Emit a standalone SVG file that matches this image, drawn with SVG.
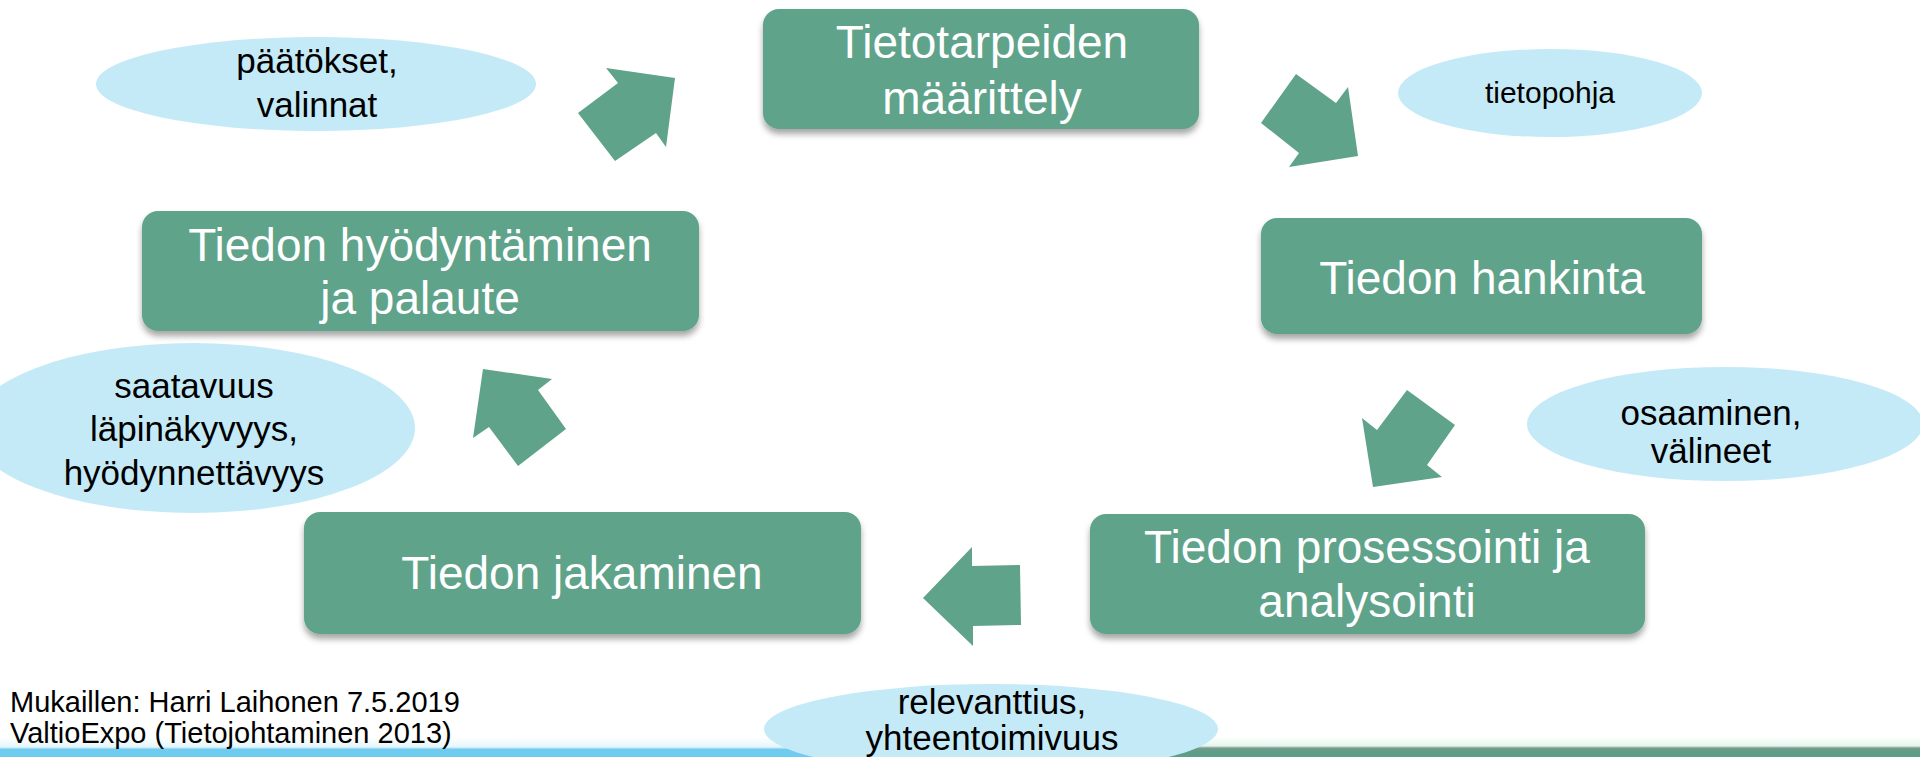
<svg xmlns="http://www.w3.org/2000/svg" width="1920" height="757" viewBox="0 0 1920 757">
<defs>
<style>
.box{fill:#5fa38b;filter:url(#sh)}
.bt{font-family:"Liberation Sans",Arial,sans-serif;font-size:46px;fill:#ffffff;text-anchor:middle}
.el{fill:#c5eaf7}
.et{font-family:"Liberation Sans",Arial,sans-serif;font-size:35px;fill:#000000;text-anchor:middle}
.ft{font-family:"Liberation Sans",Arial,sans-serif;font-size:29px;fill:#000000}
.arr{fill:#5fa38b}
</style>
<filter id="sh" x="-10%" y="-20%" width="120%" height="150%">
<feDropShadow dx="0" dy="5" stdDeviation="3" flood-color="#000" flood-opacity="0.35"/>
</filter>
<linearGradient id="gb" x1="0" y1="0" x2="0" y2="1">
<stop offset="0" stop-color="#ffffff"/>
<stop offset="0.5" stop-color="#e6f6fc"/>
<stop offset="0.62" stop-color="#6fcbef"/>
<stop offset="1" stop-color="#6fcbef"/>
</linearGradient>
<linearGradient id="gg" x1="0" y1="0" x2="0" y2="1">
<stop offset="0" stop-color="#ffffff"/>
<stop offset="0.45" stop-color="#e4f5ee"/>
<stop offset="0.55" stop-color="#7d9a8e"/>
<stop offset="0.7" stop-color="#5e9e88"/>
<stop offset="1" stop-color="#5e9e88"/>
</linearGradient>
</defs>
<rect width="1920" height="757" fill="#ffffff"/>

<g id="bottom-bar">
<rect x="0" y="737" width="1155" height="20" fill="url(#gb)"/>
<rect x="1153" y="737" width="767" height="20" fill="url(#gg)"/>
</g>

<g id="connectors">
<polygon class="arr" points="675,78 666,147 656,133 615,161 578,113 618,83 606,68"/>
<polygon class="arr" points="1358,156 1348,87 1336,103 1296,74 1261,123 1299,153 1289,167"/>
<polygon class="arr" points="1373,487 1362,418 1377,430 1407,390 1455,425 1427,465 1442,477"/>
<polygon class="arr" points="923,598 972,547 972,566 1020,565 1021,625 973,626 973,646"/>
<polygon class="arr" points="483,369 552,379 538,390 566,429 518,466 489,427 473,438"/>
</g>

<g id="node-maarittely">
<rect class="box" x="763" y="9" width="436" height="120" rx="16"/>
<text class="bt" x="982" y="58">Tietotarpeiden</text>
<text class="bt" x="982" y="114">määrittely</text>
</g>

<g id="node-hankinta">
<rect class="box" x="1261" y="218" width="441" height="116" rx="16"/>
<text class="bt" x="1482" y="294">Tiedon hankinta</text>
</g>

<g id="node-prosessointi">
<rect class="box" x="1090" y="514" width="555" height="120" rx="16"/>
<text class="bt" x="1367" y="563">Tiedon prosessointi ja</text>
<text class="bt" x="1367" y="617">analysointi</text>
</g>

<g id="node-jakaminen">
<rect class="box" x="304" y="512" width="557" height="122" rx="16"/>
<text class="bt" x="582" y="589">Tiedon jakaminen</text>
</g>

<g id="node-hyodyntaminen">
<rect class="box" x="142" y="211" width="557" height="120" rx="16"/>
<text class="bt" x="420" y="261">Tiedon hyödyntäminen</text>
<text class="bt" x="420" y="314">ja palaute</text>
</g>

<g id="note-paatokset">
<ellipse class="el" cx="316" cy="84" rx="220" ry="47"/>
<text class="et" x="317" y="73">päätökset,</text>
<text class="et" x="317" y="117">valinnat</text>
</g>

<g id="note-tietopohja">
<ellipse class="el" cx="1550" cy="93" rx="152" ry="44"/>
<text class="et" x="1550" y="103" style="font-size:30px">tietopohja</text>
</g>

<g id="note-osaaminen">
<ellipse class="el" cx="1725" cy="424" rx="198" ry="57"/>
<text class="et" x="1711" y="425">osaaminen,</text>
<text class="et" x="1711" y="463">välineet</text>
</g>

<g id="note-saatavuus">
<ellipse class="el" cx="193" cy="428" rx="222" ry="85"/>
<text class="et" x="194" y="398">saatavuus</text>
<text class="et" x="194" y="441">läpinäkyvyys,</text>
<text class="et" x="194" y="485">hyödynnettävyys</text>
</g>

<g id="note-relevanttius">
<ellipse class="el" cx="991" cy="729" rx="227" ry="45"/>
<text class="et" x="992" y="714">relevanttius,</text>
<text class="et" x="992" y="750">yhteentoimivuus</text>
</g>

<g id="footer">
<text class="ft" x="10" y="712">Mukaillen: Harri Laihonen 7.5.2019</text>
<text class="ft" x="10" y="743">ValtioExpo (Tietojohtaminen 2013)</text>
</g>
</svg>
